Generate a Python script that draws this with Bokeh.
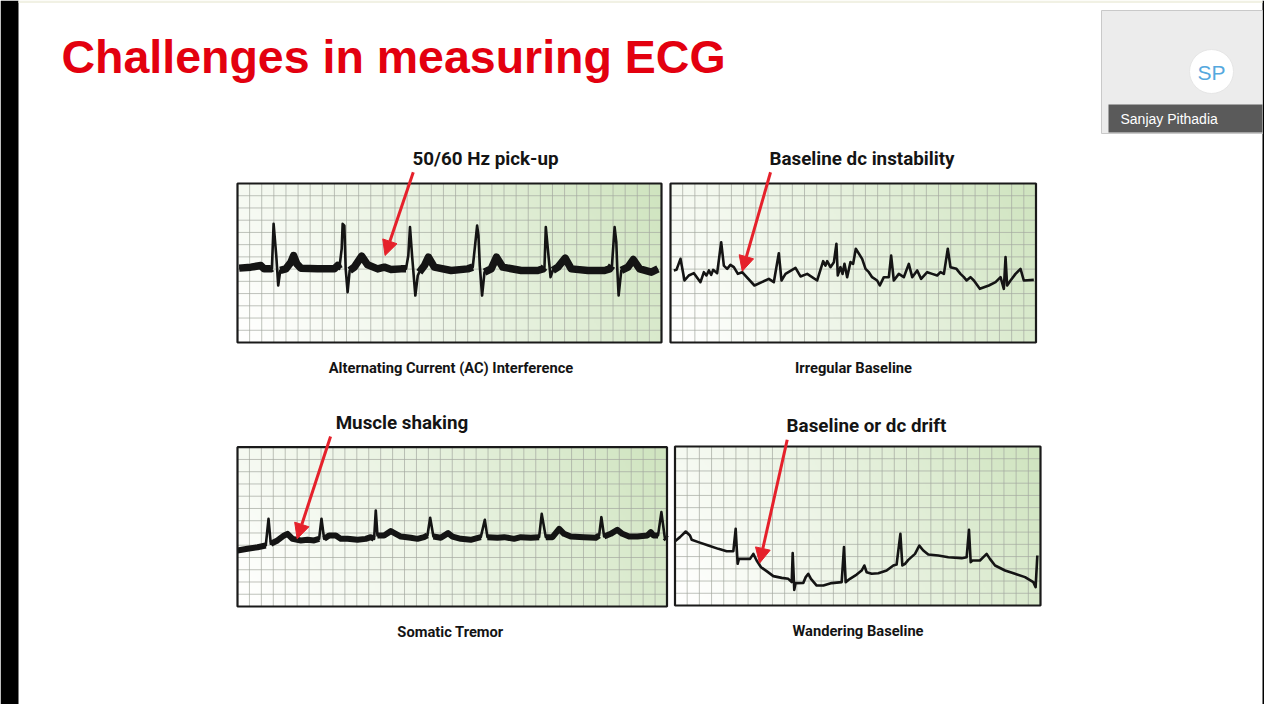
import numpy as np
from bokeh.plotting import figure
from bokeh.models import Range1d, Arrow, NormalHead
from bokeh.core.properties import value
from bokeh.embed import file_html
from bokeh.resources import INLINE

# ---------------------------------------------------------------- data
TITLE = "Challenges in measuring ECG"
PANEL_TITLES = ["50/60 Hz pick-up", "Baseline dc instability",
                "Muscle shaking", "Baseline or dc drift"]
PANEL_CAPTIONS = ["Alternating Current (AC) Interference", "Irregular Baseline",
                  "Somatic Tremor", "Wandering Baseline"]
PRESENTER = "Sanjay Pithadia"
PRESENTER_INITIALS = "SP"

# size of each ECG strip in small grid squares
GRID_COLS = [35, 30, 36, 30]
GRID_ROWS = [13, 13, 13, 13]

# --- AC interference strip: time (squares), amplitude (squares), noisy-baseline flag
AC_T = [0.14, 1.10, 1.93, 2.20, 2.75, 2.84, 2.98, 3.20, 3.36, 3.53, 3.99, 4.41, 4.63, 4.90, 5.23,
        6.61, 7.99, 8.26, 8.40, 8.60, 8.68, 8.82, 8.93, 9.09, 9.26, 9.64, 10.25, 10.74, 11.57,
        12.12, 12.67, 13.50, 13.91, 14.10, 14.24, 14.41, 14.68, 14.88, 15.01, 15.43, 15.76,
        16.25, 17.63, 19.01, 19.42, 19.61, 19.78, 19.89, 20.00, 20.19, 20.39, 20.94, 21.38,
        21.90, 23.42, 24.79, 25.21, 25.34, 25.45, 25.67, 25.84, 26.03, 26.45, 27.05, 27.55,
        28.93, 30.30, 30.72, 30.91, 31.13, 31.27, 31.35, 31.46, 31.68, 32.23, 32.67, 33.20,
        34.16, 34.71]
AC_V = [6.08, 6.16, 6.29, 6.02, 6.02, 6.08, 9.70, 7.11, 4.66, 5.89, 6.02, 6.57, 7.11, 6.43, 6.08,
        6.02, 6.02, 6.29, 6.02, 7.66, 9.70, 9.56, 6.02, 4.11, 5.89, 6.16, 7.06, 6.35, 6.02,
        6.16, 5.97, 6.02, 6.02, 7.11, 9.43, 7.11, 3.84, 5.48, 5.75, 6.29, 6.98,
        6.16, 5.89, 6.02, 6.16, 7.93, 9.56, 8.75, 6.29, 3.84, 5.75, 6.02, 6.98,
        6.16, 5.89, 5.89, 6.02, 6.16, 9.43, 7.11, 5.34, 5.89, 6.16, 6.89, 6.02,
        5.89, 5.89, 6.02, 6.29, 9.43, 8.20, 6.02, 3.84, 5.89, 6.16, 6.78, 6.02,
        5.75, 6.02]
AC_NOISE = [1, 1, 1, 1, 1, 1, 0, 0, 0, 1, 1, 1, 1, 1, 1, 1, 1, 1, 1, 0, 0, 0, 0, 0, 1, 1, 1, 1, 1,
            1, 1, 1, 1, 0, 0, 0, 0, 0, 1, 1, 1, 1, 1, 1, 1, 0, 0, 0, 0, 0, 1, 1, 1,
            1, 1, 1, 1, 1, 0, 0, 0, 1, 1, 1, 1, 1, 1, 1, 1, 0, 0, 0, 0, 1, 1, 1, 1, 1, 1]

# --- Irregular baseline strip
IRR_T = [0.27, 0.49, 0.82, 1.15, 1.50, 1.92, 2.46, 2.74, 2.95, 3.15, 3.34, 3.50, 3.83, 4.16, 4.38,
         4.65, 4.92, 5.20, 5.53, 5.88, 6.89, 8.07, 8.48, 8.89, 9.11, 9.44, 10.26, 10.67, 11.22,
         12.04, 12.53, 12.72, 12.86, 13.13, 13.41, 13.62, 13.73, 13.95, 14.12, 14.28, 14.50,
         14.77, 14.99, 15.21, 15.73, 16.01, 16.28, 16.55, 16.96, 17.18, 17.51, 17.92, 18.11,
         18.33, 18.74, 19.15, 19.56, 19.84, 20.25, 20.57, 21.07, 21.48, 21.89, 22.16, 22.44,
         22.76, 22.98, 23.47, 23.80, 24.08, 24.30, 24.62, 24.90, 25.39, 26.13, 26.68, 27.09,
         27.36, 27.50, 27.63, 27.91, 28.32, 28.73, 29.00, 29.82]
IRR_V = [5.89, 5.94, 6.84, 5.07, 5.48, 5.67, 4.93, 5.75, 5.48, 5.89, 5.53, 5.94, 5.67, 8.20, 6.29,
         6.02, 6.35, 6.16, 5.61, 5.75, 4.66, 5.20, 4.93, 7.30, 5.07, 5.61, 6.10, 5.40, 5.61,
         5.07, 6.65, 6.29, 6.65, 6.16, 6.57, 8.07, 5.48, 6.16, 5.61, 6.43, 5.34,
         6.57, 6.43, 7.66, 6.84, 6.02, 5.75, 5.34, 5.07, 4.66, 5.34, 5.34, 7.11,
         5.07, 5.61, 5.34, 6.43, 5.34, 5.89, 5.20, 5.75, 5.61, 5.48, 5.75, 5.61,
         7.66, 6.16, 6.02, 5.61, 5.34, 5.07, 5.34, 5.07, 4.39, 4.66, 4.93, 5.34,
         4.39, 6.98, 4.66, 5.07, 5.61, 6.02, 5.07, 5.12]

# --- Somatic tremor strip
TRM_T = [0.00, 0.84, 1.68, 2.37, 2.60, 2.79, 3.35, 3.91, 4.19, 4.61, 5.31, 5.87, 6.42, 6.84,
         7.04, 7.26, 7.68, 8.24, 8.66, 9.22, 10.06, 10.75, 11.17, 11.45, 11.59, 11.73, 12.29,
         12.85, 13.27, 13.69, 14.53, 15.08, 15.64, 15.92, 16.15, 16.42, 17.04, 17.65, 18.02,
         18.72, 19.55, 20.39, 20.73, 20.95, 21.79, 22.35, 23.18, 23.74, 24.58, 25.28, 25.50,
         25.84, 26.40, 26.96, 27.37, 27.93, 29.05, 30.03, 30.31, 30.50, 30.73, 31.28, 31.84,
         32.26, 32.82, 33.52, 34.36, 34.64, 34.86, 35.25, 35.53, 35.81, 35.98]
TRM_V = [4.57, 4.71, 4.84, 4.98, 7.16, 5.12, 5.39, 5.80, 5.93, 5.52, 5.39, 5.44, 5.39, 5.52,
         7.16, 5.52, 5.80, 5.80, 5.52, 5.52, 5.44, 5.52, 5.66, 5.52, 7.84, 5.80, 5.80,
         6.15, 5.93, 5.71, 5.61, 5.52, 5.66, 5.80, 7.24, 5.71, 5.61, 5.99, 5.71,
         5.52, 5.44, 5.66, 7.07, 5.66, 5.61, 5.66, 5.52, 5.66, 5.61, 5.66, 7.56,
         5.66, 5.66, 6.34, 5.93, 5.71, 5.66, 5.61, 5.80, 7.29, 5.71, 5.93, 6.26,
         5.93, 5.71, 5.71, 5.80, 6.07, 5.80, 5.80, 7.70, 5.66, 5.52]
TRM_NOISE = [1, 1, 1, 1, 0, 1, 1, 1, 1, 1, 1, 1, 1, 1, 0, 1, 1, 1, 1, 1, 1, 1, 1, 1, 0, 1, 1,
             1, 1, 1, 1, 1, 1, 1, 0, 1, 1, 1, 1, 1, 1, 1, 0, 1, 1, 1, 1, 1, 1, 1, 0,
             1, 1, 1, 1, 1, 1, 1, 1, 0, 1, 1, 1, 1, 1, 1, 1, 1, 1, 1, 0, 1, 1]

# --- Wandering baseline strip
WND_T = [0.00, 0.41, 0.88, 1.23, 1.37, 1.92, 2.74, 3.56, 4.24, 4.79, 4.98, 5.14, 5.25, 6.16,
         6.43, 6.70, 7.06, 7.52, 8.07, 8.76, 9.30, 9.58, 9.66, 9.79, 9.90, 10.53, 10.73, 10.94,
         11.16, 11.63, 12.18, 12.86, 13.68, 13.87, 14.01, 14.36, 14.91, 15.32, 15.54, 15.73,
         16.14, 16.69, 17.37, 17.92, 18.19, 18.50, 18.66, 18.88, 19.15, 19.70, 20.05, 20.38,
         20.79, 21.61, 22.44, 23.53, 23.94, 24.13, 24.27, 24.41, 25.03, 25.31, 25.58, 25.85,
         26.27, 27.09, 27.91, 28.73, 29.41, 29.60, 29.74]
WND_V = [5.26, 5.59, 6.05, 5.72, 5.37, 5.18, 4.90, 4.63, 4.44, 4.44, 6.27, 3.41, 3.81, 3.81,
         4.22, 3.68, 3.13, 2.81, 2.40, 2.26, 2.18, 1.91, 4.28, 1.28, 1.83, 1.85, 2.32, 2.59,
         2.18, 1.63, 1.63, 1.83, 1.91, 4.77, 1.91, 2.18, 2.53, 2.86, 3.27, 2.72,
         2.59, 2.64, 2.86, 3.27, 3.35, 5.86, 3.27, 3.41, 3.73, 4.22, 4.90, 4.50,
         4.17, 4.09, 3.95, 3.87, 3.95, 6.19, 3.54, 3.68, 3.68, 3.95, 4.22, 3.81,
         3.27, 2.86, 2.59, 2.32, 1.91, 1.50, 4.09]

# arrow tails / tips in each strip's grid squares
ARROW_TAIL_T = [14.51, 8.21, 7.80, 9.21]
ARROW_TAIL_V = [13.92, 13.92, 13.88, 13.55]
ARROW_TIP_T = [12.18, 5.89, 5.00, 6.94]
ARROW_TIP_V = [7.11, 5.83, 5.53, 3.46]

TRACES = [(AC_T, AC_V, AC_NOISE), (IRR_T, IRR_V, None),
          (TRM_T, TRM_V, TRM_NOISE), (WND_T, WND_V, None)]

# ---------------------------------------------------------------- layout / style
W, H = 1264, 704
X0, X1, Y0, Y1 = 0, W, 0, H                 # canvas shows slide pixels 0..W, 0..H
BOXES = [(237, 661, 183, 342), (670, 1035.5, 183, 342),
         (237, 666.5, 446.7, 606), (674.5, 1040, 446, 605)]  # left, right, top, bottom
TITLE_POS = [(485, 166), (861.5, 166), (401.5, 430), (866, 433)]
CAPTION_POS = [(450.5, 373), (853, 373), (450, 637), (857.5, 636)]
BAND_WIDTH = [7.5, 0, 6, 0]
BASE_SHIFT = 0.38   # alphabetic baseline correction (fraction of font size)

RED = "#e3000f"
ARROW_RED = "#e5212b"
INK = "#141414"
COND = value("Roboto")
SANS = value("Liberation Sans")

p = figure(width=W, height=H, x_range=Range1d(X0, X1), y_range=Range1d(Y1, Y0),
           output_backend="svg", toolbar_location=None, min_border=0)
p.axis.visible = False
p.grid.visible = False
p.outline_line_color = None
p.background_fill_color = "white"
p.border_fill_color = "white"


def put_text(xs, ys, texts, size, **kw):
    p.text(x=xs, y=[y - BASE_SHIFT * size for y in ys], text=texts,
           text_font_size=f"{size}px", text_baseline="alphabetic", **kw)


# dark bars of the screen capture, faint top strip
p.quad(left=[0, 1262], right=[18, 1290], top=[0, 0], bottom=[720, 720],
       fill_color="black", line_color=None)
p.quad(left=[18], right=[1262], top=[0], bottom=[2.5], fill_color="#f1f1e4", line_color=None)
p.segment(x0=[18, 1219], y0=[710, 709], x1=[1219, 1219], y1=[710, 720],
          line_color="#c4c4c4", line_width=2)

# title
put_text([61], [74], [TITLE], 46.5, text_font=SANS, text_font_style="bold",
         text_color=RED, text_align="left")

# video tile
p.quad(left=[1101], right=[1262], top=[10], bottom=[133], fill_color="#ececec",
       line_color="#c9c9c9", line_width=1)
p.circle(x=[1211], y=[71], radius=22, fill_color="white", line_color="#e6e6e6")
p.text(x=[1211], y=[72], text=[PRESENTER_INITIALS], text_font=SANS, text_font_size="21px",
       text_color="#55a8de", text_align="center", text_baseline="middle")
p.quad(left=[1108], right=[1262], top=[104], bottom=[132], fill_color="#5a5a5a", line_color=None)
put_text([1120], [124], [PRESENTER], 14, text_font=SANS, text_color="white")


def gradient_rgba(nx=240, ny=80):
    u = np.linspace(0, 1, nx)[None, :]
    v = np.linspace(0, 1, ny)[:, None]
    t = np.clip(0.8 * u ** 1.15 + 0.22 * v - 0.02, 0, 1)
    start = np.array([255, 255, 254])
    end = np.array([207, 228, 191])
    img = np.empty((ny, nx), dtype=np.uint32)
    view = img.view(dtype=np.uint8).reshape((ny, nx, 4))
    for k in range(3):
        view[:, :, k] = (start[k] + (end[k] - start[k]) * t).astype(np.uint8)
    view[:, :, 3] = 255
    return img


for i, (box, ncol, nrow) in enumerate(zip(BOXES, GRID_COLS, GRID_ROWS)):
    left, right, top, bottom = box
    sx = (right - left) / ncol
    sy = (bottom - top) / nrow
    xr, yr = f"x{i}", f"y{i}"
    p.extra_x_ranges[xr] = Range1d(-(left - X0) / sx, ncol + (X1 - right) / sx)
    p.extra_y_ranges[yr] = Range1d(-(Y1 - bottom) / sy, nrow + (top - Y0) / sy)
    kw = dict(x_range_name=xr, y_range_name=yr)

    p.image_rgba(image=[gradient_rgba()], x=0, y=0, dw=ncol, dh=nrow, **kw)
    gx = list(range(1, ncol))
    gy = list(range(1, nrow))
    p.segment(x0=gx, y0=[0] * len(gx), x1=gx, y1=[nrow] * len(gx),
              line_color="#a4a8a0", line_width=1, line_alpha=0.7, **kw)
    p.segment(x0=[0] * len(gy), y0=gy, x1=[ncol] * len(gy), y1=gy,
              line_color="#a4a8a0", line_width=1, line_alpha=0.7, **kw)

    t, v, noise = TRACES[i]
    p.line(t, v, line_color=INK, line_width=2.6, line_join="round", **kw)
    if noise is not None:
        band = [vv if f else np.nan for vv, f in zip(v, noise)]
        p.line(t, band, line_color=INK, line_width=BAND_WIDTH[i], line_join="round", **kw)

    p.quad(left=[0], right=[ncol], bottom=[0], top=[nrow], fill_color=None,
           line_color="#1a1a1a", line_width=2.2, **kw)

    p.add_layout(Arrow(end=NormalHead(size=15, fill_color=ARROW_RED, line_color=ARROW_RED),
                       x_start=ARROW_TAIL_T[i], y_start=ARROW_TAIL_V[i],
                       x_end=ARROW_TIP_T[i], y_end=ARROW_TIP_V[i],
                       line_color=ARROW_RED, line_width=3, **kw))

put_text([c[0] for c in TITLE_POS], [c[1] for c in TITLE_POS], PANEL_TITLES, 18.8,
         text_font=COND, text_font_style="bold", text_color=INK, text_align="center")
put_text([c[0] for c in CAPTION_POS], [c[1] for c in CAPTION_POS], PANEL_CAPTIONS, 14.7,
         text_font=COND, text_font_style="bold", text_color=INK, text_align="center")

open("out.html", "w").write(file_html(p, INLINE))
